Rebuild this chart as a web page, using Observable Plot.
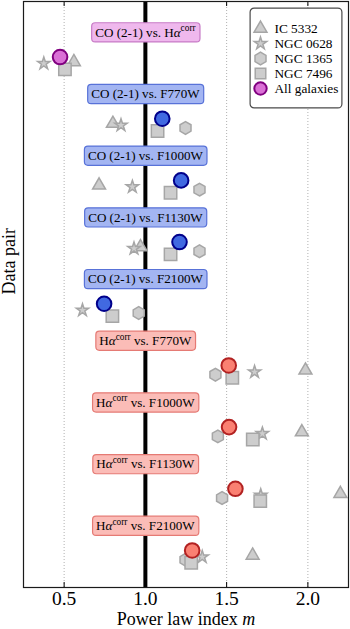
<!DOCTYPE html>
<html><head><meta charset="utf-8">
<script src="https://cdn.jsdelivr.net/npm/d3@7"></script>
<script src="https://cdn.jsdelivr.net/npm/@observablehq/plot@0.6"></script>
<style>
html,body{margin:0;padding:0;background:#fff;}
#wrap{position:relative;width:350px;height:629px;overflow:hidden;}
#legend{position:absolute;left:249px;top:7px;}
#wrap svg text{font-family:"Liberation Serif","DejaVu Serif",serif !important;}
</style></head><body><div id="wrap"></div>
<script>
// ---- data ----
const pairs = ["CO (2-1) vs. Hα^corr", "CO (2-1) vs. F770W", "CO (2-1) vs. F1000W", "CO (2-1) vs. F1130W", "CO (2-1) vs. F2100W",
  "Hα^corr vs. F770W", "Hα^corr vs. F1000W", "Hα^corr vs. F1130W", "Hα^corr vs. F2100W"];
const pairGroup = ["COHa", "CO", "CO", "CO", "CO", "Ha", "Ha", "Ha", "Ha"];
const galaxies = ["IC 5332", "NGC 0628", "NGC 1365", "NGC 7496", "All galaxies"];
const m_IC5332  = [0.56, 0.80, 0.715, 0.97, null, 1.985, 1.963, 2.20, 1.66];
const m_NGC0628 = [0.375, 0.85, 0.92, 0.93, 0.613, 1.672, 1.72, 1.71, 1.35];
const m_NGC1365 = [null, 1.247, 1.333, 1.333, 0.959, 1.431, 1.446, 1.472, 1.247];
const m_NGC7496 = [0.505, 1.075, 1.155, 1.155, 0.797, 1.535, 1.661, 1.707, 1.282];
const m_all     = [0.475, 1.104, 1.22, 1.21, 0.746, 1.513, 1.515, 1.554, 1.288];
const xTicks = [0.5, 1.0, 1.5, 2.0];

// ---- styling ----
const serif = "Liberation Serif, DejaVu Serif, serif";
const series = [m_IC5332, m_NGC0628, m_NGC1365, m_NGC7496];
const symbols = ["triangle", "star", "hexagon", "square", "circle"];
const symR = [4.8, 3.9, 5.5, 7.0, 7.3];
const rowShift = [0.48, 0.505, 0.55, 0.60, 0.40];
const grayFill = "#cdcdcd", grayStroke = "#a6a6a6";
const dotFill = {COHa: "#da70d6", CO: "#4169e1", Ha: "#fa8072"};
const dotStroke = {COHa: "#800080", CO: "#00008b", Ha: "#b22222"};
const boxFill = {COHa: "#efb8ed", CO: "#a3b5f2", Ha: "#fbbcb7"};
const boxStroke = {COHa: "#c77bc6", CO: "#5872d8", Ha: "#e57a74"};

const rows = pairs.map((p, i) => ({pair: p, i, group: pairGroup[i]}));
const galaxyMarks = series.map((s, k) => Plot.dot(
  s.map((m, i) => ({m, i})).filter(d => d.m != null),
  {x: "m", y: d => d.i + rowShift[k], symbol: symbols[k], r: symR[k], fill: grayFill, stroke: grayStroke, strokeWidth: 1.5}
));
const allPts = m_all.map((m, i) => ({m, i, group: pairGroup[i]}));

const H = 629, mt = 1, mb = 42;
const svg = Plot.plot({
  width: 350, height: H, marginTop: mt, marginBottom: mb, marginLeft: 23, marginRight: 2,
  style: {fontFamily: serif, background: "white", color: "black"},
  x: {domain: [0.25, 2.25]},
  y: {domain: [-0.5, 9], reverse: true, axis: null},
  color: {type: "identity"},
  marks: [
    Plot.ruleX(xTicks, {stroke: "#b0b0b0", strokeWidth: 1, strokeDasharray: "1,2"}),
    Plot.ruleX([1.0], {stroke: "black", strokeWidth: 4}),
    Plot.ruleX(xTicks, {stroke: "black", strokeWidth: 1, insetBottom: H - mt - mb - 5}),
    Plot.ruleX(xTicks, {stroke: "black", strokeWidth: 1, insetTop: H - mt - mb - 5}),
    ...galaxyMarks,
    Plot.dot(allPts, {x: "m", y: d => d.i + rowShift[4], r: symR[4], fill: d => dotFill[d.group], stroke: d => dotStroke[d.group], strokeWidth: 2}),
    Plot.text(rows, {x: () => 1.0, y: "i", text: "pair", fontSize: 13.1, fontFamily: serif, fill: "black"}),
    Plot.axisX(xTicks, {tickSize: 0, tickPadding: 4, fontSize: 19.5, fontFamily: serif, tickFormat: d3.format(".1f"), label: null}),
    Plot.text(["Power law index m"], {frameAnchor: "bottom", lineAnchor: "middle", dy: 31.8, fontSize: 18, fontFamily: serif, fill: "black"}),
    Plot.text(["Data pair"], {frameAnchor: "left", lineAnchor: "middle", rotate: -90, dx: -13.8, fontSize: 18, fontFamily: serif, fill: "black"}),
    Plot.frame({stroke: "#1a1a1a", strokeWidth: 1.2})
  ]
});
const wrap = document.getElementById("wrap");
wrap.appendChild(svg);

// rich text + rounded boxes for the pair labels
d3.select(svg).selectAll("text").each(function () {
  this.style.fontFamily = serif;
  const txt = this.textContent;
  if (txt === "Power law index m") {
    const t = d3.select(this); t.text(null);
    t.append("tspan").text("Power law index ");
    t.append("tspan").attr("font-style", "italic").text("m");
    return;
  }
  const idx = pairs.indexOf(txt);
  if (idx < 0) return;
  const t = d3.select(this);
  t.text(null);
  const parts = txt.split(/(α|\^corr)/).filter(s => s);
  let raised = false;
  for (const p of parts) {
    const ts = t.append("tspan");
    if (raised) { ts.attr("dy", 5.2); raised = false; }
    if (p === "α") ts.attr("font-style", "italic").text("α");
    else if (p === "^corr") { ts.attr("font-size", 9.3).attr("dy", -5.2).text("corr"); raised = true; }
    else ts.text(p);
  }
  const bb = this.getBBox();
  const tr = this.getAttribute("transform");
  const yc = tr ? 0 : parseFloat(this.getAttribute("y") || 0);
  const g = pairGroup[idx];
  const rect = document.createElementNS("http://www.w3.org/2000/svg", "rect");
  rect.setAttribute("x", bb.x - 3.5);
  rect.setAttribute("width", bb.width + 7);
  rect.setAttribute("y", yc - 9.6);
  rect.setAttribute("height", 19.2);
  rect.setAttribute("rx", 3.5);
  rect.setAttribute("fill", boxFill[g]);
  rect.setAttribute("stroke", boxStroke[g]);
  rect.setAttribute("stroke-width", 1.2);
  if (tr) rect.setAttribute("transform", tr);
  this.parentNode.insertBefore(rect, this);
});

// legend
const legendSym = galaxies.map((g, k) => Plot.dot([g], {
  y: d => d, frameAnchor: "left", dx: 11, symbol: symbols[k],
  r: k === 4 ? 6.2 : symR[k] * (k === 3 ? 0.85 : 1),
  fill: k === 4 ? dotFill.COHa : grayFill, stroke: k === 4 ? dotStroke.COHa : grayStroke, strokeWidth: k === 4 ? 2 : 1.5
}));
const legend = Plot.plot({
  width: 93, height: 101, margin: 0,
  style: {fontFamily: serif, background: "transparent", color: "black", overflow: "visible"},
  y: {type: "point", domain: galaxies, inset: 11, axis: null},
  marks: [
    Plot.frame({fill: "white", stroke: "#4a4a4a", strokeWidth: 1.2, rx: 4, inset: 0.6}),
    ...legendSym,
    Plot.text(galaxies, {y: d => d, text: d => d, frameAnchor: "left", dx: 25, textAnchor: "start", fontSize: 13.3, fontFamily: serif, fill: "black"})
  ]
});
legend.id = "legend";
d3.select(legend).selectAll("text").each(function () { this.style.fontFamily = serif; });
wrap.appendChild(legend);
</script></body></html>
